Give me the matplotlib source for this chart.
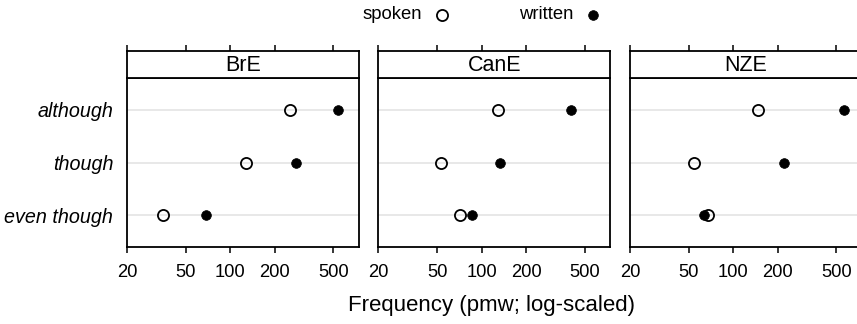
import numpy as np
import matplotlib.pyplot as plt

plt.rcParams['font.family'] = ['Liberation Sans', 'DejaVu Sans']

varieties = ['BrE', 'CanE', 'NZE']
conjunctions = ['although', 'though', 'even though']

# frequencies (pmw)
spoken = {
    'BrE':  [255, 128, 35],
    'CanE': [130, 53, 71],
    'NZE':  [147, 54, 68],
}
written = {
    'BrE':  [533, 277, 69],
    'CanE': [404, 134, 86],
    'NZE':  [564, 220, 63],
}

xticks = [20, 50, 100, 200, 500]

fig = plt.figure(figsize=(8.57, 3.24), dpi=100)

lefts = [127, 378.3, 630]
pw = 232
W, H = 857, 324
y_bot, y_top, strip_top = 247, 78, 51

ypos = np.arange(len(conjunctions))

for i, v in enumerate(varieties):
    ax = fig.add_axes([lefts[i] / W, 1 - y_bot / H, pw / W, (y_bot - y_top) / H])
    for y in ypos:
        ax.axhline(y, color='#e6e6e6', lw=1.3, zorder=0)
    ax.plot(spoken[v], ypos, 'o', ms=8, mfc='none', mec='black', mew=1.3, ls='none', zorder=3)
    ax.plot(written[v], ypos, 'o', ms=7, mfc='black', mec='black', mew=0.5, ls='none', zorder=4)
    ax.set_xscale('log')
    ax.set_xlim(20, 745)
    ax.set_ylim(2.6, -0.6)
    ax.set_xticks(xticks)
    ax.set_xticklabels([str(t) for t in xticks], fontsize=13.2)
    ax.minorticks_off()
    ax.tick_params(axis='x', length=4.5, width=1.1, pad=8)
    if i == 0:
        ax.set_yticks(ypos)
        ax.set_yticklabels(conjunctions, fontsize=14.2, style='italic')
        ax.tick_params(axis='y', length=0, pad=10)
    else:
        ax.set_yticks([])
    for s in ax.spines.values():
        s.set_linewidth(1.3)

    # strip on top
    sa = fig.add_axes([lefts[i] / W, 1 - y_top / H, pw / W, (y_top - strip_top) / H])
    sa.set_xscale('log')
    sa.set_xlim(20, 745)
    sa.set_xticks(xticks)
    sa.minorticks_off()
    sa.xaxis.tick_top()
    sa.tick_params(axis='x', length=4.5, width=1.1, labeltop=False)
    sa.set_yticks([])
    sa.text(0.5, 0.45, v, transform=sa.transAxes, ha='center', va='center', fontsize=15.5)
    for s in sa.spines.values():
        s.set_linewidth(1.3)

fig.text(492 / W, 1 - 305 / H, 'Frequency (pmw; log-scaled)', ha='center', va='center', fontsize=16)

# legend on top
fig.text(422 / W, 1 - 19 / H, 'spoken', ha='right', va='baseline', fontsize=13.3)
fig.text(573 / W, 1 - 19 / H, 'written', ha='right', va='baseline', fontsize=13.3)
lax = fig.add_axes([0, 0, 1, 1], facecolor='none')
lax.set_xlim(0, W)
lax.set_ylim(H, 0)
lax.axis('off')
lax.plot([441.7], [15], 'o', ms=8, mfc='none', mec='black', mew=1.3)
lax.plot([592.7], [15], 'o', ms=7, mfc='black', mec='black', mew=0.5)

fig.savefig('out.png', dpi=100)
